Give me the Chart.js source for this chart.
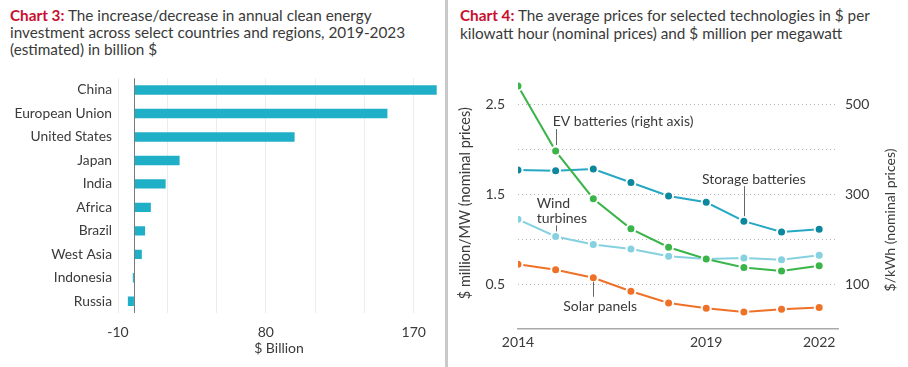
<!DOCTYPE html>
<html>
<head>
<meta charset="utf-8">
<script src="https://cdn.jsdelivr.net/npm/chart.js@4.4.1/dist/chart.umd.min.js"></script>
<style>
  body { margin: 0; width: 908px; height: 367px; background: #fff; position: relative; overflow: hidden;
         font-family: Lato, "Noto Sans", sans-serif; color: #3a3a3a; }
  .title { position: absolute; font-size: 15.3px; line-height: 17px; }
  .title b { color: #c8102e; }
  #t3 { left: 10px; top: 7px; }
  #t4 { left: 460px; top: 6px; line-height: 18px; }
  #divider { position: absolute; left: 445px; top: 0; width: 3px; height: 367px; background: #c9c9c9; }
  #c3 { position: absolute; left: 0; top: 64px; }
  #c4 { position: absolute; left: 449px; top: 56px; }
</style>
</head>
<body>
<div class="title" id="t3"><b>Chart 3:</b> The increase/decrease in annual clean energy<br>investment across select countries and regions, 2019-2023<br>(estimated) in billion $</div>
<div class="title" id="t4"><b>Chart 4:</b> The average prices for selected technologies in $ per<br>kilowatt hour (nominal prices) and $ million per megawatt</div>
<div id="divider"></div>
<canvas id="c3" width="446" height="303"></canvas>
<canvas id="c4" width="459" height="311"></canvas>
<script>
// chart 3 data
const countries = ['China', 'European Union', 'United States', 'Japan', 'India', 'Africa', 'Brazil', 'West Asia', 'Indonesia', 'Russia'];
const investChange = [184, 154, 97.5, 27.5, 19, 10, 6.5, 4.5, -1, -4];
const investTicks = [-10, 0, 20, 50, 80, 110, 140, 170];
const investLabels = [-10, 80, 170];

// chart 4 data
const years = [2014, 2015, 2016, 2017, 2018, 2019, 2020, 2021, 2022];
const evBatteries = [541, 396, 290, 223, 182, 156, 137, 129, 141];        // $/kWh, right axis
const storageBatteries = [1.77, 1.76, 1.78, 1.63, 1.48, 1.41, 1.20, 1.08, 1.11];
const windTurbines = [1.22, 1.03, 0.94, 0.89, 0.81, 0.78, 0.79, 0.77, 0.82];
const solarPanels = [0.72, 0.66, 0.57, 0.42, 0.29, 0.23, 0.19, 0.22, 0.24];
const yearTicks = [2014, 2019, 2022];
const leftTicks = [0.5, 1, 1.5, 2, 2.5];
const leftLabels = [0.5, 1.5, 2.5];
const rightTicks = [100, 300, 500];

const FONT = 'Lato, "Noto Sans", sans-serif';
const TXT = '#3a3a3a';
Chart.defaults.font.family = FONT;
Chart.defaults.color = TXT;

new Chart(document.getElementById('c3'), {
    type: 'bar',
    data: {
        labels: countries,
        datasets: [{
            data: investChange,
            backgroundColor: '#1fafc7',
            barPercentage: 0.4,
            categoryPercentage: 1
        }]
    },
    options: {
        indexAxis: 'y',
        responsive: false,
        animation: false,
        layout: { padding: { top: 0, right: 6 } },
        plugins: { legend: { display: false }, tooltip: { enabled: false } },
        scales: {
            x: {
                min: -10, max: 186,
                afterBuildTicks: s => { s.ticks = investTicks.map(v => ({ value: v })); },
                afterFit: s => { s.height = 54; },
                grid: {
                    drawTicks: false,
                    color: c => c.tick && c.tick.value === 0 ? '#7a7a7a' : '#ececec'
                },
                border: { display: false },
                ticks: {
                    padding: 11,
                    font: { size: 14 },
                    callback: v => investLabels.includes(v) ? v : ''
                },
                title: { display: true, text: '$ Billion', font: { size: 14 }, padding: { top: 0, bottom: 10 } }
            },
            y: {
                afterFit: s => { s.width = 118; },
                grid: { display: false, drawTicks: false },
                border: { display: false },
                ticks: { padding: 6, font: { size: 13.8 } }
            }
        }
    }
});

// labels with leader lines, anchored to a data point
const notes = [
    { ds: 0, i: 1, lines: ['EV batteries (right axis)'], dx: -3, dy: -30, l1: -22, l2: -6 },
    { ds: 1, i: 6, lines: ['Storage batteries'], dx: -42, dy: -42, l1: -35, l2: -5 },
    { ds: 2, i: 1, lines: ['Wind', 'turbines'], dx: -19, dy: -33, l1: -11, l2: -5 },
    { ds: 3, i: 2, lines: ['Solar panels'], dx: -30, dy: 29, l1: 4, l2: 19 }
];

const notePlugin = {
    id: 'notes',
    afterDatasetsDraw(chart) {
        const ctx = chart.ctx;
        ctx.save();
        ctx.font = '14px ' + FONT;
        ctx.textBaseline = 'middle';
        ctx.fillStyle = TXT;
        notes.forEach(n => {
            const p = chart.getDatasetMeta(n.ds).data[n.i];
            ctx.strokeStyle = '#666';
            ctx.lineWidth = 1;
            ctx.beginPath();
            ctx.moveTo(Math.round(p.x) + 0.5, p.y + n.l1);
            ctx.lineTo(Math.round(p.x) + 0.5, p.y + n.l2);
            ctx.stroke();
            n.lines.forEach((t, k) => ctx.fillText(t, p.x + n.dx, p.y + n.dy + k * 15));
        });
        // right axis title, reading bottom to top
        const r = chart.scales.y1;
        ctx.translate(r.right - 18, 164);
        ctx.rotate(-Math.PI / 2);
        ctx.textAlign = 'center';
        ctx.fillText('$/kWh (nominal prices)', 0, 0);
        ctx.restore();
    }
};

const pts = arr => years.map((y, i) => ({ x: y, y: arr[i] }));
const line = (label, arr, color, dot, axis, order) => ({
    label, data: pts(arr), yAxisID: axis, order,
    borderColor: color, borderWidth: 2,
    pointBackgroundColor: dot, pointBorderColor: '#fff', pointBorderWidth: 2, pointRadius: 4.5
});

new Chart(document.getElementById('c4'), {
    type: 'line',
    data: {
        datasets: [
            line('EV batteries', evBatteries, '#3bb44a', '#3bb44a', 'y1', 0),
            line('Storage batteries', storageBatteries, '#26a8c4', '#0c879e', 'y', 1),
            line('Wind turbines', windTurbines, '#86d1e0', '#86d1e0', 'y', 3),
            line('Solar panels', solarPanels, '#ef7127', '#ef7127', 'y', 2)
        ]
    },
    options: {
        responsive: false,
        animation: false,
        layout: { padding: { top: 0 } },
        plugins: { legend: { display: false }, tooltip: { enabled: false } },
        scales: {
            x: {
                type: 'linear',
                min: 2014, max: 2022.5,
                afterBuildTicks: s => { s.ticks = yearTicks.map(v => ({ value: v })); },
                afterFit: s => { s.height = 38; },
                grid: { display: false, drawTicks: false },
                border: { color: '#aaa', width: 1.5 },
                ticks: { padding: 5, font: { size: 14 }, callback: v => String(v) }
            },
            y: {
                position: 'left',
                min: 0, max: 2.8,
                afterBuildTicks: s => { s.ticks = leftTicks.map(v => ({ value: v })); },
                afterFit: s => { s.width = 69; },
                grid: { drawTicks: false, color: '#b5b5b5' },
                border: { display: false, dash: [1, 3] },
                ticks: {
                    padding: 13,
                    font: { size: 14 },
                    callback: v => leftLabels.includes(v) ? v.toFixed(1) : ''
                },
                title: { display: true, text: '$ million/MW (nominal prices)', font: { size: 14.5 }, padding: { top: 8 } }
            },
            y1: {
                position: 'right',
                min: 0, max: 560,
                afterBuildTicks: s => { s.ticks = rightTicks.map(v => ({ value: v })); },
                afterFit: s => { s.width = 70; },
                grid: { display: false, drawTicks: false },
                border: { display: false },
                ticks: { padding: 7, font: { size: 14 } }
            }
        }
    },
    plugins: [notePlugin]
});
</script>
</body>
</html>
